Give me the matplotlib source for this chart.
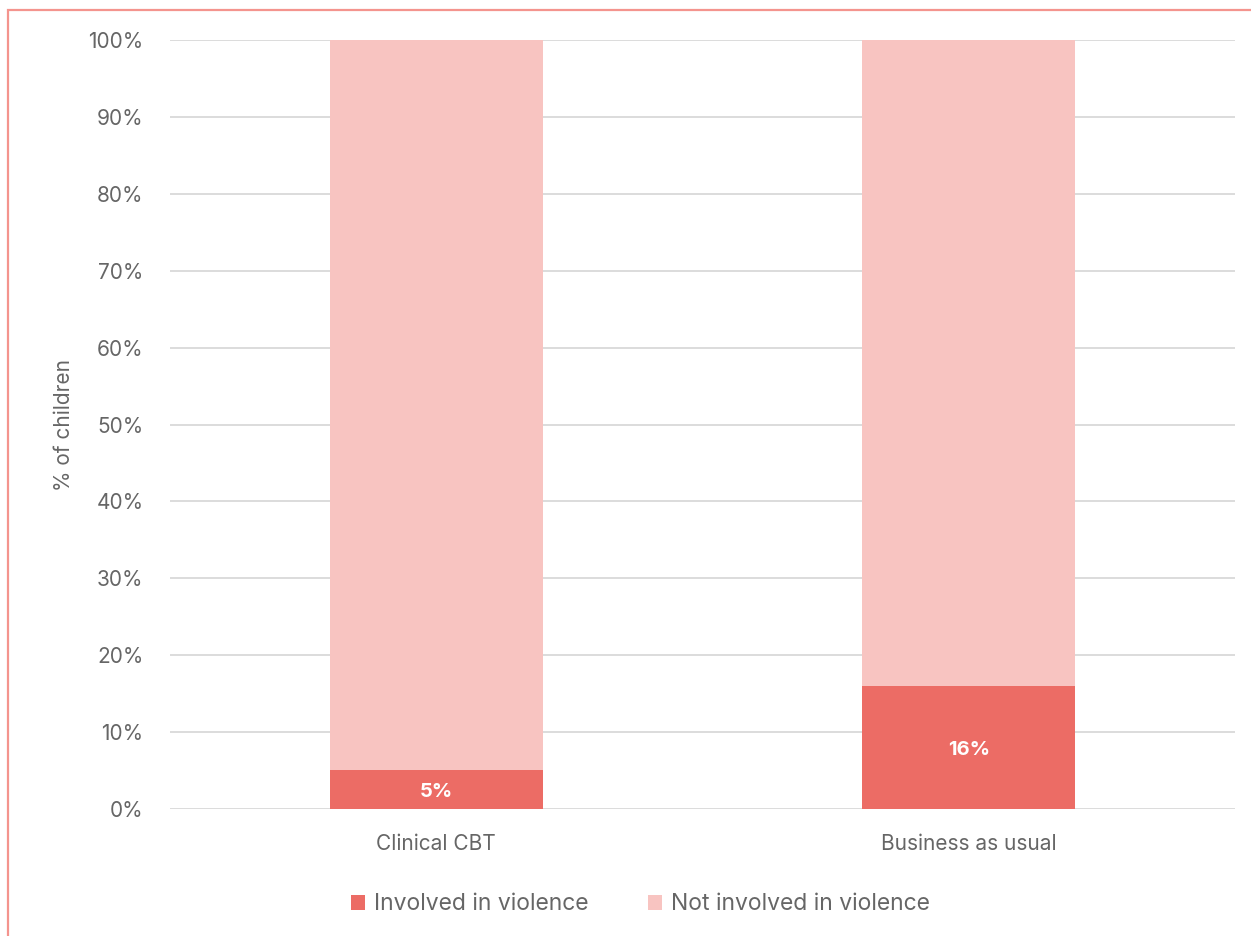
import matplotlib.pyplot as plt
from matplotlib.patches import Rectangle
from matplotlib.ticker import PercentFormatter

groups = ["Clinical CBT", "Business as usual"]
involved = [5.1, 16.0]
not_involved = [94.9, 84.0]
bar_labels = ["5%", "16%"]

dark = "#ec6c65"
light = "#f8c4c1"
txt = "#666666"

plt.rcParams['font.family'] = ['Inter', 'DejaVu Sans']

fig = plt.figure(figsize=(12.51, 9.36), dpi=100)
ax = fig.add_axes([170/1251, 1-809/936, (1235-170)/1251, (809-40)/936])

x = range(len(groups))
b1 = ax.bar(x, involved, width=0.4, color=dark, label="Involved in violence", zorder=3)
ax.bar(x, not_involved, width=0.4, bottom=involved, color=light,
       label="Not involved in violence", zorder=3)

for rect, lab in zip(b1, bar_labels):
    ax.text(rect.get_x() + rect.get_width()/2, rect.get_height()/2 - 0.3, lab,
            ha="center", va="center", color="white", fontsize=14.5, fontweight="bold", zorder=4)

ax.set_xlim(-0.5, 1.5)
ax.set_ylim(0, 100)
ax.set_yticks(range(0, 101, 10))
ax.yaxis.set_major_formatter(PercentFormatter(decimals=0))
ax.set_xticks(list(x))
ax.set_xticklabels(groups)
ax.tick_params(axis="both", length=0, labelsize=15, colors=txt)
ax.tick_params(axis="y", pad=19)
ax.tick_params(axis="x", pad=18)
ax.yaxis.grid(True, color="#d9d9d9", linewidth=1.3, zorder=0)
for s in ax.spines.values():
    s.set_visible(False)
ax.set_ylabel("% of children", fontsize=15, color=txt, labelpad=10)

ax.legend(loc="upper center", bbox_to_anchor=(0.442, -0.083), ncol=2, frameon=False,
          fontsize=16.5, labelcolor=txt, handlelength=0.6, handleheight=0.6,
          handletextpad=0.4, columnspacing=2.6)

fig.patches.append(Rectangle((8/1251, -0.1), 1.2, 1.1 - 10/936, transform=fig.transFigure,
                             fill=False, edgecolor="#f4948e", linewidth=1.6))

fig.savefig("out.png", dpi=100)
